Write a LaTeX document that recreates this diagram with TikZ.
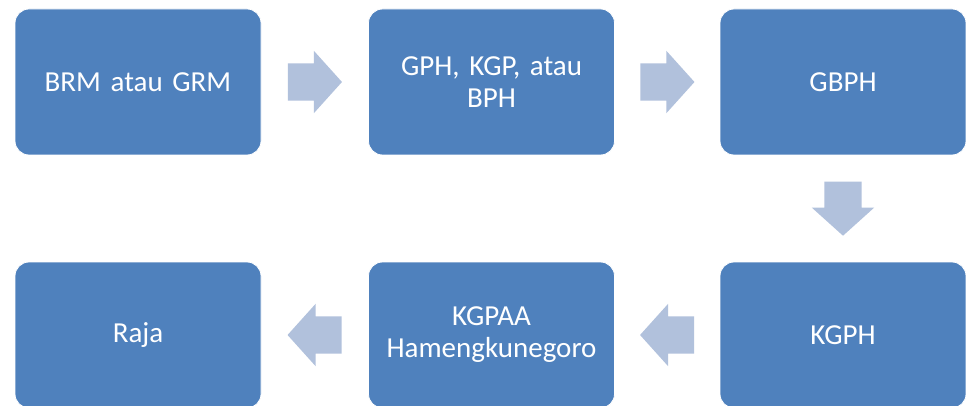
\documentclass[tikz,border=0pt]{standalone}
\usepackage{fontspec}
\setmainfont{Carlito}
\usetikzlibrary{shapes.arrows,calc}
\definecolor{boxblue}{HTML}{4F81BD}
\definecolor{arrowblue}{HTML}{B1C1DC}
\tikzset{
  stage/.style={draw=white, line width=0.8pt, fill=boxblue, rounded corners=14pt,
    minimum width=246pt, minimum height=146pt, inner sep=0pt,
    text=white, align=center, text width=230pt,
    font=\fontsize{29}{32}\selectfont},
  blockarrow/.style={single arrow, fill=arrowblue, draw=none,
    inner xsep=0pt, inner ysep=18.5pt, anchor=tail,
    minimum height=54pt, single arrow head extend=12.5pt,
    single arrow tip angle=96},
  vblockarrow/.style={blockarrow, inner xsep=18.5pt, inner ysep=0pt}
}
\begin{document}
\begin{tikzpicture}[x=1pt,y=-1pt]
\useasboundingbox (0,0) rectangle (966,406);
\fill[white] (0,0) rectangle (966,406);
\node[stage] (b1) at (138,82) {BRM atau GRM};
\node[stage] (b2) at (491.5,82) {GPH, KGP, atau\\BPH};
\node[stage] (b3) at (843,82) {GBPH};
\node[stage] (b4) at (843,335) {KGPH};
\node[stage] (b5) at (491.5,335) {KGPAA\\Hamengkunegoro};
\node[stage] (b6) at (138,335) {Raja};
\node[blockarrow] (a1) at ($(b1.east)!0.5!(b2.west)+(-27,0)$) {};
\node[blockarrow] (a2) at ($(b2.east)!0.5!(b3.west)+(-27,0)$) {};
\node[vblockarrow, shape border rotate=270] (a3) at ($(b3.south)!0.5!(b4.north)+(0,-27)$) {};
\node[blockarrow, shape border rotate=180] (a4) at ($(b4.west)!0.5!(b5.east)+(27,0)$) {};
\node[blockarrow, shape border rotate=180] (a5) at ($(b5.west)!0.5!(b6.east)+(27,0)$) {};
\end{tikzpicture}
\end{document}
